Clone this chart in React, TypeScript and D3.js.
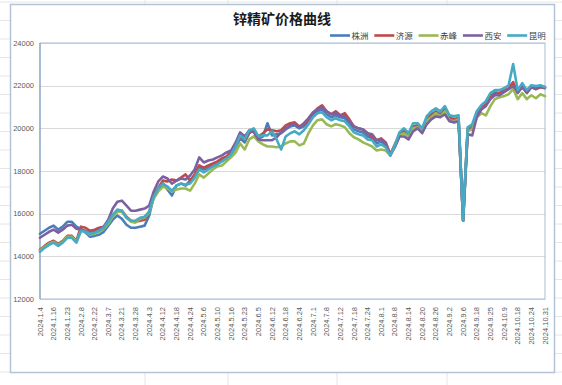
import * as d3 from "d3";

const W = 562;
const H = 385;

// one label every 3 data points
const tickLabels = [
  "2024.1.4", "2024.1.16", "2024.1.23", "2024.2.8", "2024.2.22", "2024.3.7", "2024.3.21", "2024.3.28",
  "2024.4.3", "2024.4.12", "2024.4.18", "2024.4.24", "2024.5.6", "2024.5.10", "2024.5.16", "2024.5.23",
  "2024.6.5", "2024.6.12", "2024.6.18", "2024.6.24", "2024.7.1", "2024.7.8", "2024.7.12", "2024.7.18",
  "2024.7.24", "2024.8.1", "2024.8.8", "2024.8.14", "2024.8.20", "2024.8.26", "2024.9.2", "2024.9.6",
  "2024.9.18", "2024.9.25", "2024.10.9", "2024.10.18", "2024.10.24", "2024.10.31",
];
const POINTS_PER_TICK = 3;

const zhuzhou = [
  15060, 15200, 15340, 15440, 15250, 15390, 15620, 15620, 15390, 15290, 15110, 14920,
  14960, 15010, 15150, 15440, 15720, 15910, 15760, 15480, 15340, 15340, 15390, 15440,
  15910, 16800, 17130, 17410, 17130, 16850, 17320, 17410, 17320, 17550, 17790, 18160,
  18070, 18160, 18260, 18350, 18490, 18590, 18780, 19110, 19530, 19340, 19770, 19910,
  19530, 19620, 20240, 19670, 19720, 19770, 19950, 20090, 20140, 20000, 20090, 20330,
  20610, 20800, 20890, 20660, 20520, 20610, 20520, 20470, 20240, 19950, 19860, 19810,
  19620, 19530, 19290, 19390, 19200, 18780, 19110, 19620, 19910, 19670, 20090, 20090,
  19910, 20420, 20660, 20800, 20660, 20890, 20520, 20420, 20470, 15670, 19950, 20090,
  20710, 20990, 21180, 21550, 21690, 21650, 21790, 21840, 22070, 21650, 21980, 21650,
  21930, 21840, 21930, 21880,
];

const jiyuan = [
  14310, 14490, 14640, 14730, 14590, 14730, 14960, 14960, 14730, 15390, 15340, 15200,
  15250, 15340, 15390, 15620, 15910, 16090, 16140, 15860, 15670, 15620, 15670, 15720,
  16090, 16850, 17220, 17550, 17510, 17600, 17550, 17690, 17840, 17550, 17840, 18260,
  18160, 18260, 18350, 18450, 18590, 18680, 18920, 19200, 19620, 19440, 19810, 19910,
  19620, 19770, 19950, 19910, 19860, 19910, 20140, 20240, 20280, 20090, 20190, 20420,
  20710, 20940, 21080, 20800, 20660, 20800, 20610, 20710, 20420, 20090, 20000, 19950,
  19770, 19580, 19440, 19530, 19340, 18780, 19250, 19720, 19910, 19670, 20090, 20140,
  19910, 20470, 20610, 20750, 20610, 20890, 20470, 20420, 20470, 15670, 19950, 19950,
  20610, 20890, 21130, 21460, 21600, 21650, 21740, 21880, 22170, 21690, 21930, 21690,
  21930, 21840, 21930, 21930,
];

const chifeng = [
  14260, 14450, 14590, 14680, 14540, 14680, 14920, 14920, 14680, 15200, 15150, 15010,
  15060, 15150, 15290, 15530, 15860, 16090, 16090, 15810, 15620, 15580, 15760, 15810,
  16050, 16710, 17040, 17270, 17180, 17040, 17130, 17180, 17180, 17080, 17410, 17840,
  17690, 17880, 18070, 18210, 18260, 18450, 18640, 18870, 19290, 19010, 19480, 19620,
  19390, 19250, 19150, 19150, 19110, 19150, 19290, 19390, 19390, 19200, 19290, 19770,
  20140, 20380, 20420, 20190, 20090, 20190, 20140, 20050, 19770, 19580, 19480, 19340,
  19250, 19150, 18960, 19010, 18960, 18730, 19150, 19670, 19770, 19620, 20000, 20050,
  19860, 20330, 20520, 20710, 20560, 20800, 20380, 20330, 20420, 15670, 19860, 19950,
  20520, 20710, 20610, 21040, 21370, 21460, 21510, 21600, 21840, 21370, 21650, 21370,
  21550, 21410, 21600, 21510,
];

const xian = [
  14870, 15010, 15150, 15250, 15110, 15250, 15440, 15480, 15290, 15250, 15200, 15110,
  15150, 15250, 15390, 15720, 16240, 16560, 16610, 16380, 16140, 16140, 16190, 16240,
  16380, 17040, 17510, 17740, 17650, 17410, 17550, 17650, 17600, 17790, 18070, 18640,
  18400, 18490, 18540, 18640, 18730, 18870, 18960, 19340, 19810, 19620, 19910, 19810,
  19480, 19440, 19440, 19440, 19580, 19810, 20000, 20140, 20190, 20050, 20240, 20470,
  20750, 20890, 20990, 20800, 20660, 20710, 20610, 20560, 20330, 20090, 20000, 19950,
  19770, 19720, 19440, 19480, 19290, 18730, 19150, 19620, 19620, 19480, 19860, 20000,
  19770, 20190, 20420, 20560, 20520, 20660, 20330, 20280, 20330, 15670, 19720, 19670,
  20520, 20890, 21040, 21370, 21550, 21550, 21690, 21840, 21980, 21690, 21930, 21740,
  21930, 21880, 21980, 21930,
];

const kunming = [
  14210, 14400, 14540, 14640, 14490, 14640, 14870, 14870, 14640, 15200, 15150, 15060,
  15110, 15200, 15340, 15620, 15950, 16190, 16140, 15810, 15670, 15670, 15810, 15860,
  16090, 16800, 17180, 17410, 17270, 17080, 17320, 17410, 17360, 17410, 17690, 18070,
  17930, 18070, 18210, 18310, 18450, 18590, 18780, 19150, 19670, 19480, 19910, 20000,
  19620, 19670, 19670, 19860, 19480, 19010, 19620, 19770, 19860, 19720, 19910, 20190,
  20520, 20710, 20750, 20520, 20380, 20470, 20380, 20330, 20090, 19810, 19720, 19670,
  19480, 19440, 19150, 19250, 19110, 18730, 19200, 19810, 20000, 19770, 20240, 20240,
  20000, 20560, 20800, 20940, 20800, 21040, 20610, 20560, 20610, 15670, 20050, 20190,
  20800, 21080, 21270, 21650, 21790, 21790, 21880, 22020, 23010, 21790, 22120, 21790,
  22020, 21980, 22020, 21930,
];

const seriesNames = ["株洲", "济源", "赤峰", "西安", "昆明"];
const seriesData = [zhuzhou, jiyuan, chifeng, xian, kunming];
const seriesColors = ["#4A7EBB", "#BE4B48", "#98B954", "#7D60A0", "#46AAC5"];
const yTicks = [12000, 14000, 16000, 18000, 20000, 22000, 24000];

const numFont = "'Liberation Sans', Arial, sans-serif";
const cjkFont = "'Noto Sans CJK SC', sans-serif";

export default function App() {
  const left = 40, right = 545, top = 43, bottom = 299;
  const n = zhuzhou.length;

  const x = d3.scaleLinear().domain([0, n - 1]).range([left, right]);
  const y = d3.scaleLinear().domain([12000, 24000]).range([bottom, top]);

  const line = d3.line<number>()
    .x((_, i) => x(i))
    .y((d) => y(d));

  // faint worksheet grid behind the chart
  const rows = d3.range(2, H, 18.5);
  const cols = [145, 228, 337, 447];

  return (
    <div style={{ position: "absolute", left: 0, top: 0, width: W, height: H, background: "#fff" }}>
      <svg width={W} height={H} viewBox={`0 0 ${W} ${H}`}>
        {rows.map((r) => (
          <line key={`r${r}`} x1={0} x2={W} y1={r} y2={r} stroke="#E6E6E6" strokeWidth={1} />
        ))}
        {cols.map((c) => (
          <line key={`c${c}`} x1={c} x2={c} y1={0} y2={H} stroke="#E6E6E6" strokeWidth={1} />
        ))}

        <rect x={10.5} y={4.5} width={544} height={368} fill="#fff" stroke="#B4C3D6" strokeWidth={1.5} />

        <text x={282} y={24} textAnchor="middle" fontFamily={cjkFont} fontWeight="bold" fontSize={14} fill="#1a1a1a">
          锌精矿价格曲线
        </text>

        {/* legend */}
        {seriesNames.map((name, i) => {
          const lx = 330 + i * 44.3;
          return (
            <g key={name}>
              <line x1={lx} x2={lx + 20} y1={35.5} y2={35.5} stroke={seriesColors[i]} strokeWidth={2.6} />
              <text x={lx + 21.5} y={38.5} fontFamily={cjkFont} fontSize={8.5} fill="#404040">{name}</text>
            </g>
          );
        })}

        {/* gridlines */}
        {yTicks.map((t) => (
          <line key={t} x1={left} x2={right} y1={Math.round(y(t)) + 0.5} y2={Math.round(y(t)) + 0.5} stroke="#D9D9D9" strokeWidth={1} />
        ))}
        <rect x={left} y={top} width={right - left} height={bottom - top} fill="none" stroke="#A9BDD5" strokeWidth={1} />
        <line x1={left} x2={left} y1={top} y2={bottom} stroke="#86A3C4" strokeWidth={1.2} />

        {/* y labels */}
        {yTicks.map((t) => (
          <text key={t} x={34} y={y(t) + 2.6} textAnchor="end" fontFamily={numFont} fontSize={7.5} fill="#595959">
            {t}
          </text>
        ))}

        {/* x labels */}
        {tickLabels.map((lab, i) => {
          const tx = x(i * POINTS_PER_TICK);
          return (
            <text
              key={lab}
              transform={`translate(${tx + 2.6},${bottom + 8}) rotate(-90)`}
              textAnchor="end"
              fontFamily={numFont}
              fontSize={7.5}
              fill="#595959"
            >
              {lab}
            </text>
          );
        })}

        {/* series */}
        {seriesData.map((data, i) => (
          <path
            key={seriesNames[i]}
            d={line(data) ?? ""}
            fill="none"
            stroke={seriesColors[i]}
            strokeWidth={2.6}
            strokeLinejoin="round"
            strokeLinecap="round"
          />
        ))}
      </svg>
    </div>
  );
}
